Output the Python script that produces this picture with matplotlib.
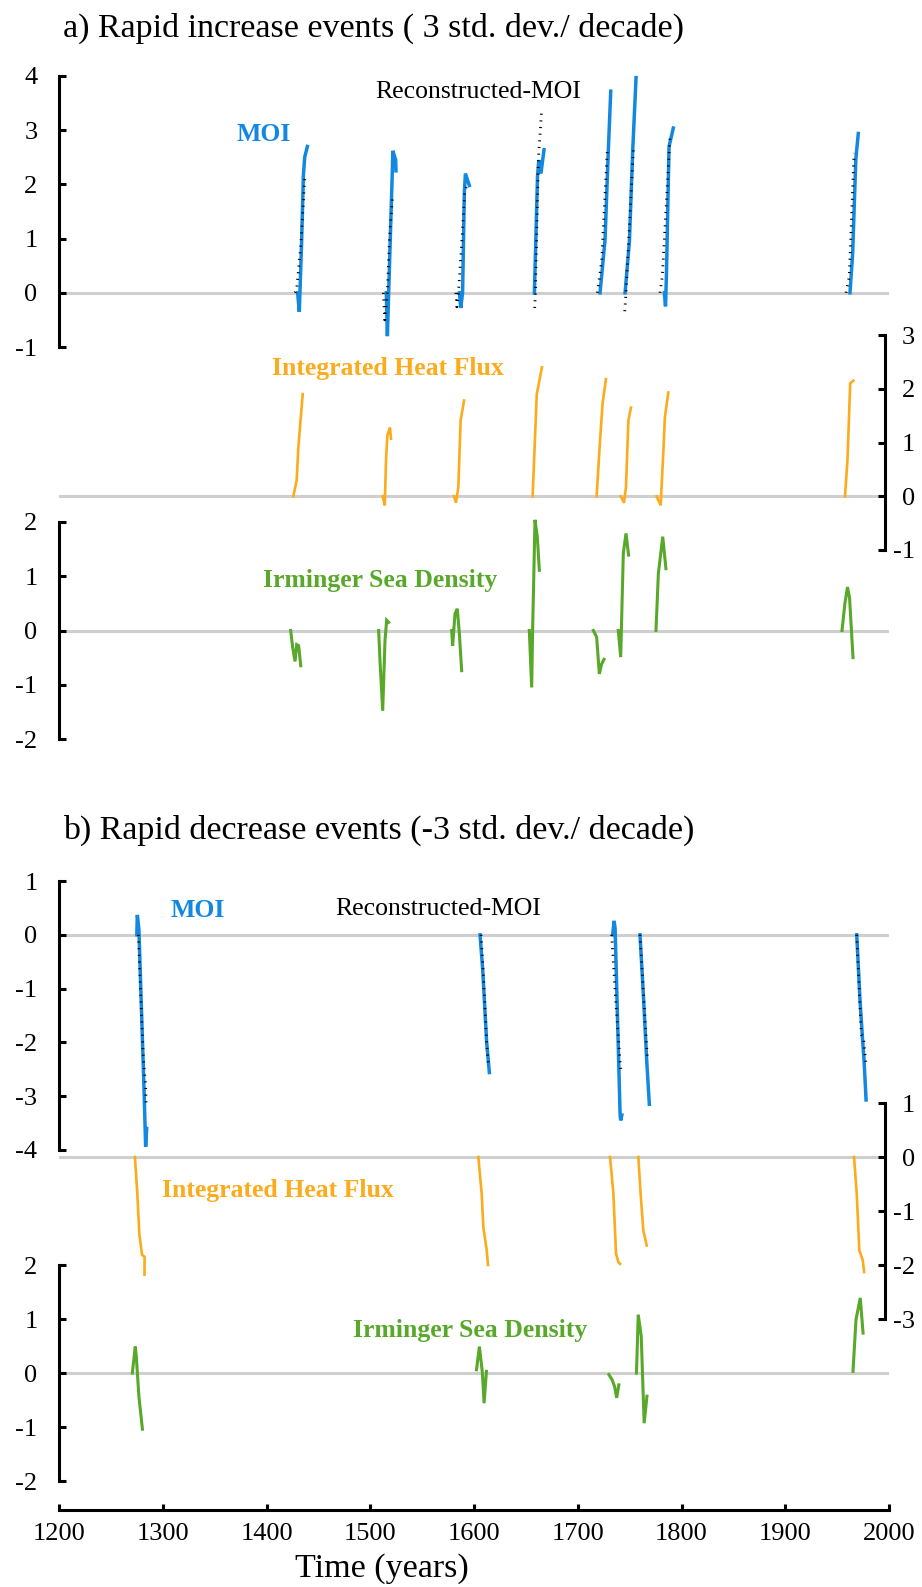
import matplotlib
matplotlib.use("Agg")
import matplotlib.pyplot as plt

plt.rcParams["font.family"] = ["Liberation Serif", "DejaVu Serif"]
plt.rcParams["axes.unicode_minus"] = False

# ---- a) rapid increase events ----
inc_moi_years = [
    [1430.0, 1431.6, 1433.8, 1435.5, 1436.8, 1439.4],
    [1515.5, 1516.5, 1519.0, 1521.2, 1521.8, 1524.5, 1524.8],
    [1586.0, 1587.2, 1589.0, 1590.7, 1591.7, 1595.5],
    [1658.2, 1659.5, 1661.2, 1662.5, 1664.5, 1667.5],
    [1721.5, 1726.3, 1729.5, 1731.8],
    [1745.6, 1749.8, 1753.0, 1756.2],
    [1783.5, 1784.6, 1785.5, 1788.0, 1792.1],
    [1962.4, 1965.0, 1968.0, 1970.4],
]
inc_moi_vals = [
    [0.0, -0.35, 0.9, 2.15, 2.5, 2.7],
    [0.0, -0.8, 0.8, 2.2, 2.62, 2.45, 2.25],
    [0.0, -0.28, 0.0, 1.85, 2.2, 1.98],
    [0.0, 0.92, 2.15, 2.45, 2.2, 2.64],
    [0.0, 0.98, 2.64, 3.72],
    [0.0, 0.95, 2.64, 3.97],
    [0.0, -0.25, 0.35, 2.7, 3.04],
    [0.0, 0.74, 2.46, 2.94],
]
inc_rec_years = [
    [1427.5, 1429.0, 1433.0, 1435.5, 1437.1],
    [1512.6, 1514.0, 1516.5, 1518.5, 1521.5],
    [1582.5, 1583.5, 1585.0, 1588.0, 1591.0, 1592.5],
    [1658.5, 1659.2, 1662.0, 1665.3],
    [1718.9, 1723.1, 1728.5],
    [1745.3, 1746.5, 1753.6],
    [1779.3, 1781.5, 1789.0],
    [1958.6, 1961.7, 1966.3],
]
inc_rec_vals = [
    [0.0, 0.05, 0.86, 1.66, 2.18],
    [0.0, -0.5, 0.0, 1.0, 1.78],
    [0.0, -0.26, 0.0, 0.86, 1.85, 1.95],
    [-0.28, 0.0, 2.45, 3.4],
    [0.0, 0.6, 2.64],
    [-0.34, 0.0, 2.64],
    [0.0, 0.3, 2.9],
    [0.0, 0.3, 2.58],
]
inc_hf_years = [
    [1425.9, 1429.1, 1430.7, 1434.9],
    [1512.0, 1514.0, 1515.2, 1516.5, 1519.0, 1520.0],
    [1580.7, 1582.6, 1584.9, 1587.1, 1590.4],
    [1656.5, 1660.5, 1665.5],
    [1718.2, 1721.3, 1723.9, 1727.2],
    [1741.4, 1744.6, 1746.5, 1748.8, 1751.3],
    [1776.0, 1779.9, 1782.4, 1784.0, 1787.3],
    [1957.6, 1960.0, 1962.6, 1965.6],
]
inc_hf_vals = [
    [0.0, 0.3, 0.91, 1.9],
    [0.0, -0.17, 0.67, 1.13, 1.28, 1.07],
    [0.0, -0.12, 0.17, 1.41, 1.78],
    [0.0, 1.9, 2.4],
    [0.0, 0.98, 1.72, 2.18],
    [0.0, -0.12, 0.17, 1.41, 1.65],
    [0.0, -0.17, 0.79, 1.47, 1.93],
    [0.0, 0.68, 2.1, 2.15],
]
inc_dens_years = [
    [1423.3, 1425.2, 1427.5, 1429.1, 1431.0, 1433.0],
    [1508.1, 1509.4, 1512.0, 1514.2, 1515.8, 1517.7],
    [1578.5, 1579.4, 1581.7, 1583.9, 1585.9, 1588.1],
    [1653.3, 1655.6, 1656.5, 1658.8, 1661.0, 1663.0],
    [1715.0, 1718.2, 1720.8, 1723.0, 1725.3],
    [1739.1, 1741.4, 1743.9, 1746.5, 1749.0],
    [1775.4, 1777.7, 1781.9, 1785.0],
    [1954.7, 1957.5, 1960.0, 1962.0, 1965.3],
]
inc_dens_vals = [
    [0.0, -0.31, -0.57, -0.26, -0.28, -0.65],
    [0.0, -0.56, -1.48, -0.19, 0.19, 0.15],
    [0.0, -0.28, 0.31, 0.4, -0.06, -0.74],
    [0.0, -1.05, 0.0, 2.04, 1.73, 1.11],
    [0.0, -0.12, -0.8, -0.62, -0.53],
    [0.0, -0.49, 1.42, 1.79, 1.39],
    [0.0, 1.05, 1.73, 1.14],
    [0.0, 0.5, 0.8, 0.6, -0.5],
]

# ---- b) rapid decrease events ----
dec_moi_years = [
    [1275.0, 1275.5, 1277.0, 1279.5, 1282.0, 1283.5, 1284.5],
    [1605.8, 1608.4, 1612.2, 1614.8],
    [1733.7, 1735.0, 1736.0, 1740.8, 1741.4, 1742.5],
    [1760.0, 1763.2, 1766.5, 1769.0],
    [1968.9, 1972.1, 1974.7, 1976.0, 1977.9],
]
dec_moi_vals = [
    [0.0, 0.37, 0.1, -1.4, -2.9, -3.94, -3.6],
    [0.0, -0.65, -2.0, -2.56],
    [0.0, 0.26, 0.12, -3.33, -3.45, -3.35],
    [0.0, -1.1, -2.35, -3.15],
    [0.0, -1.23, -2.0, -2.35, -3.07],
]
dec_rec_years = [
    [1276.5, 1278.7, 1281.3, 1283.5, 1284.0],
    [1606.8, 1609.0, 1612.2, 1613.8],
    [1732.7, 1736.5, 1741.4],
    [1760.0, 1763.5, 1767.1],
    [1968.9, 1973.3, 1975.5, 1977.9],
]
dec_rec_vals = [
    [0.0, -1.1, -2.3, -2.8, -3.15],
    [0.0, -0.74, -2.0, -2.4],
    [0.0, -1.2, -2.52],
    [0.0, -1.15, -2.3],
    [0.0, -1.85, -1.93, -2.43],
]
dec_hf_years = [
    [1273.2, 1275.5, 1277.4, 1280.0, 1282.5, 1282.4],
    [1604.2, 1607.4, 1609.0, 1612.2, 1613.5],
    [1731.1, 1734.3, 1736.9, 1739.2, 1740.8],
    [1758.4, 1760.6, 1763.2, 1766.5],
    [1966.3, 1968.9, 1971.4, 1974.7, 1976.0],
]
dec_hf_vals = [
    [0.0, -0.68, -1.42, -1.81, -1.85, -2.18],
    [0.0, -0.68, -1.3, -1.72, -2.0],
    [0.0, -0.66, -1.79, -1.95, -1.98],
    [0.0, -0.68, -1.36, -1.64],
    [0.0, -0.68, -1.73, -1.91, -2.13],
]
dec_dens_years = [
    [1270.7, 1273.5, 1274.5, 1277.0, 1280.4],
    [1602.4, 1605.2, 1608.1, 1609.7, 1612.0],
    [1730.0, 1733.0, 1735.5, 1737.5, 1739.6],
    [1756.6, 1758.3, 1761.2, 1764.0, 1766.7],
    [1965.3, 1968.2, 1972.3, 1975.0],
]
dec_dens_vals = [
    [0.0, 0.49, 0.31, -0.43, -1.04],
    [0.06, 0.49, 0.0, -0.56, 0.03],
    [-0.03, -0.12, -0.25, -0.46, -0.22],
    [0.0, 1.08, 0.68, -0.93, -0.43],
    [0.03, 0.99, 1.39, 0.74],
]

BLUE = "#1288e0"
ORANGE = "#fbab1c"
GREEN = "#58a82a"
GRAY = "#cfcfcf"

W, H = 922, 1587
X0, X1 = 59, 889          # pixel columns of 1200 and 2000
RIGHT_SPINE = 885
TICK_FS = 19
LAB_FS = 18.5
TITLE_FS = 24.5

fig = plt.figure(figsize=(W / 100, H / 100), dpi=100)


def add_axis(top, bottom, ylim, side="left", zero_end=1.0):
    ax = fig.add_axes([X0 / W, 1 - bottom / H, (X1 - X0) / W, (bottom - top) / H])
    ax.set_xlim(1200, 2000)
    ax.set_ylim(*ylim)
    ax.patch.set_visible(False)
    for s in ax.spines.values():
        s.set_visible(False)
    ax.spines[side].set_visible(True)
    ax.spines[side].set_linewidth(2.2)
    ticks = list(range(ylim[0], ylim[1] + 1))
    ax.set_yticks(ticks)
    ax.set_yticklabels([str(t) for t in ticks])
    if side == "right":
        ax.yaxis.tick_right()
        ax.spines["right"].set_position(("axes", (RIGHT_SPINE - X0) / (X1 - X0)))
        # labels right-aligned so the digits line up near the figure edge
        ax.tick_params(axis="y", direction="in", length=5, width=2.2,
                       labelsize=TICK_FS, pad=21.5)
        for lbl in ax.get_yticklabels():
            lbl.set_horizontalalignment("right")
    else:
        ax.tick_params(axis="y", direction="in", length=5, width=2.2,
                       labelsize=TICK_FS, pad=15.5)
    ax.set_xticks([])
    ax.axhline(0, xmin=0, xmax=zero_end, color=GRAY, lw=2.2, zorder=0)
    return ax


def draw(ax, years, vals, **kw):
    for yr, v in zip(years, vals):
        ax.plot(yr, v, clip_on=False, solid_joinstyle="miter", **kw)


def label(x, y, s, size=LAB_FS, **kw):
    fig.text(x / W, 1 - y / H, s, ha="center", va="baseline", fontsize=size, **kw)


spine_frac = (RIGHT_SPINE - X0) / (X1 - X0)
dotted = dict(color="black", lw=2.0, linestyle=(0, (0.4, 2.0)), dash_capstyle="butt")

# panel a
a_moi = add_axis(76, 347, (-1, 4))
a_hf = add_axis(335, 550, (-1, 3), side="right", zero_end=spine_frac)
a_dens = add_axis(522, 739, (-2, 2), zero_end=0.997)

draw(a_moi, inc_moi_years, inc_moi_vals, color=BLUE, lw=2.5)
draw(a_moi, inc_rec_years, inc_rec_vals, **dotted)
draw(a_hf, inc_hf_years, inc_hf_vals, color=ORANGE, lw=1.9)
draw(a_dens, inc_dens_years, inc_dens_vals, color=GREEN, lw=2.2)

fig.text(63 / W, 1 - 37 / H, "a) Rapid increase events ( 3 std. dev./ decade)",
         fontsize=TITLE_FS, va="baseline")
label(263.5, 141, "MOI", color=BLUE, fontweight="bold")
label(478, 98, "Reconstructed-MOI", color="black")
label(387.5, 375, "Integrated Heat Flux", color=ORANGE, fontweight="bold")
label(380.5, 587, "Irminger Sea Density", color=GREEN, fontweight="bold")

# panel b
b_moi = add_axis(881, 1150, (-4, 1), zero_end=0.997)
b_hf = add_axis(1103, 1319, (-3, 1), side="right", zero_end=spine_frac)
b_dens = add_axis(1265, 1481, (-2, 2), zero_end=0.997)

draw(b_moi, dec_moi_years, dec_moi_vals, color=BLUE, lw=2.5)
draw(b_moi, dec_rec_years, dec_rec_vals, **dotted)
draw(b_hf, dec_hf_years, dec_hf_vals, color=ORANGE, lw=1.9)
draw(b_dens, dec_dens_years, dec_dens_vals, color=GREEN, lw=2.2)

# time axis below the last panel
b_dens.spines["bottom"].set_visible(True)
b_dens.spines["bottom"].set_linewidth(2.2)
b_dens.spines["bottom"].set_position(("outward", 21))
b_dens.set_xticks(range(1200, 2001, 100))
b_dens.tick_params(axis="x", direction="in", length=4, width=2.2,
                   labelsize=TICK_FS, pad=9)

fig.text(63 / W, 1 - 839 / H, "b) Rapid decrease events (-3 std. dev./ decade)",
         fontsize=TITLE_FS, va="baseline")
label(198, 917, "MOI", color=BLUE, fontweight="bold")
label(438.5, 915, "Reconstructed-MOI", color="black")
label(278, 1197, "Integrated Heat Flux", color=ORANGE, fontweight="bold")
label(470.5, 1337, "Irminger Sea Density", color=GREEN, fontweight="bold")
label(382, 1577, "Time (years)", size=TITLE_FS, color="black")

fig.savefig("out.png", dpi=100)
